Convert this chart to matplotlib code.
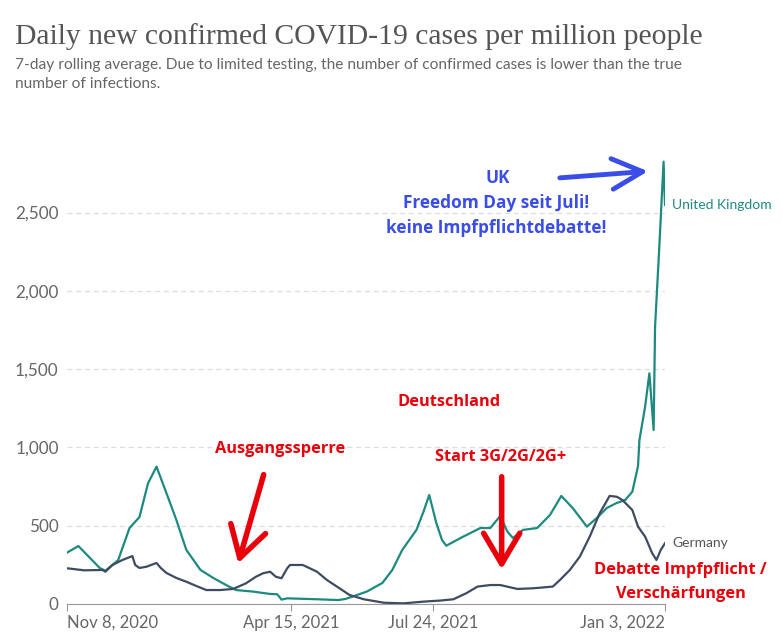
import matplotlib.pyplot as plt
import matplotlib.dates as mdates
import pandas as pd

# United Kingdom (cases per million, 7-day avg)
uk_dates = ["2020-11-08", "2020-11-16", "2020-12-01", "2020-12-05", "2020-12-14",
            "2020-12-22", "2020-12-29", "2021-01-04", "2021-01-10", "2021-01-17",
            "2021-01-24", "2021-01-31", "2021-02-10", "2021-02-19", "2021-02-28",
            "2021-03-07", "2021-03-19", "2021-03-31", "2021-04-05", "2021-04-08",
            "2021-04-12", "2021-05-03", "2021-05-18", "2021-05-23", "2021-05-28",
            "2021-06-07", "2021-06-18", "2021-06-25", "2021-07-02", "2021-07-12",
            "2021-07-17", "2021-07-21", "2021-07-26", "2021-07-30", "2021-08-02",
            "2021-08-12", "2021-08-26", "2021-09-02", "2021-09-09", "2021-09-14",
            "2021-09-18", "2021-09-25", "2021-10-05", "2021-10-14", "2021-10-22",
            "2021-10-30", "2021-11-09", "2021-11-16", "2021-11-23", "2021-11-30",
            "2021-12-06", "2021-12-11", "2021-12-15", "2021-12-16", "2021-12-20",
            "2021-12-23", "2021-12-26", "2021-12-27", "2021-12-30", "2022-01-02",
            "2022-01-03"]
uk_cases = [328, 370, 230, 212, 280,
            485, 555, 770, 877, 708,
            536, 345, 217, 166, 121,
            89, 79, 64, 62, 28,
            36, 30, 25, 32, 47,
            79, 134, 217, 345, 473,
            590, 696, 517, 409, 372,
            421, 485, 485, 562, 462,
            421, 473, 485, 568, 690,
            613, 494, 549, 613, 645,
            664, 717, 880, 1047, 1260,
            1473, 1111, 1771, 2282, 2825,
            2548]

# Germany
de_dates = ["2020-11-08", "2020-11-20", "2020-12-03", "2020-12-05", "2020-12-10",
            "2020-12-17", "2020-12-24", "2020-12-26", "2020-12-29", "2021-01-03",
            "2021-01-10", "2021-01-13", "2021-01-17", "2021-01-24", "2021-01-31",
            "2021-02-07", "2021-02-14", "2021-02-24", "2021-03-05", "2021-03-14",
            "2021-03-21", "2021-03-26", "2021-03-31", "2021-04-04", "2021-04-08",
            "2021-04-12", "2021-04-14", "2021-04-23", "2021-05-03", "2021-05-10",
            "2021-05-17", "2021-05-26", "2021-06-05", "2021-06-19", "2021-07-03",
            "2021-07-17", "2021-07-29", "2021-08-07", "2021-08-16", "2021-08-24",
            "2021-09-02", "2021-09-09", "2021-09-21", "2021-10-02", "2021-10-16",
            "2021-10-21", "2021-10-28", "2021-11-04", "2021-11-11", "2021-11-18",
            "2021-11-25", "2021-11-30", "2021-12-04", "2021-12-11", "2021-12-15",
            "2021-12-20", "2021-12-25", "2021-12-28", "2021-12-31", "2022-01-03"]
de_cases = [228, 215, 217, 206, 249,
            281, 306, 249, 230, 238,
            262, 230, 198, 166, 142,
            115, 89, 89, 96, 132,
            174, 196, 206, 174, 164,
            228, 249, 249, 206, 153,
            111, 57, 30, 8, 4,
            15, 22, 30, 68, 111,
            121, 121, 96, 100, 111,
            153, 217, 302, 430, 579,
            690, 685, 664, 600, 494,
            430, 324, 281, 345, 388]

tick_dates = ["2020-11-08", "2021-04-15", "2021-07-24", "2022-01-03"]
tick_labels = ["Nov 8, 2020", "Apr 15, 2021", "Jul 24, 2021", "Jan 3, 2022"]
y_ticks = [0, 500, 1000, 1500, 2000, 2500]

uk_x = pd.to_datetime(uk_dates)
de_x = pd.to_datetime(de_dates)
D = pd.Timestamp

UK_COL = "#1d8a80"
DE_COL = "#3f4b61"
RED = "#e8000b"
BLUE = "#3a4de6"

fig = plt.figure(figsize=(7.83, 6.43), dpi=100)
ax = fig.add_axes([0.0856, 0.0607, 0.7637, 0.694])

ax.plot(uk_x, uk_cases, color=UK_COL, lw=1.6)
ax.plot(de_x, de_cases, color=DE_COL, lw=1.6)

ax.set_xlim(D(tick_dates[0]), D(tick_dates[-1]))
ax.set_ylim(0, 2850)

# axes styling
for s in ["top", "right", "left"]:
    ax.spines[s].set_visible(False)
ax.spines["bottom"].set_color("#999999")
ax.set_yticks(y_ticks)
ax.set_yticklabels(["0" if v == 0 else f"{v:,}" for v in y_ticks])
ax.tick_params(axis="y", length=0, pad=6, labelsize=12.3, labelcolor="#666666")
ax.set_xticks(pd.to_datetime(tick_dates))
ax.set_xticklabels(tick_labels)
ax.tick_params(axis="x", length=5, color="#999999", labelsize=12,
               labelcolor="#666666", pad=3)
xl = ax.get_xticklabels()
xl[0].set_ha("left")
xl[-1].set_ha("right")
for lab in ax.get_xticklabels() + ax.get_yticklabels():
    lab.set_fontfamily("Lato")
ax.yaxis.grid(True, ls=(0, (4, 3)), color="#dddddd", lw=0.9)
ax.set_axisbelow(True)

# end labels
ax.annotate("United Kingdom", (uk_x[-1], uk_cases[-1]), xytext=(5, 0),
            textcoords="offset points", va="center", color=UK_COL,
            fontsize=10, family="Lato", annotation_clip=False)
ax.annotate("Germany", (de_x[-1], de_cases[-1]), xytext=(5, 0),
            textcoords="offset points", va="center", color="#555555",
            fontsize=10, family="Lato", annotation_clip=False)

# title + subtitle
fig.text(0.019, 0.943, "Daily new confirmed COVID-19 cases per million people",
         fontsize=21.3, family="Liberation Serif", color="#555555", va="center")
fig.text(0.019, 0.899, "7-day rolling average. Due to limited testing, the number "
         "of confirmed cases is lower than the true", fontsize=11.2,
         family="Lato", color="#666666", va="center")
fig.text(0.019, 0.870, "number of infections.", fontsize=11.2,
         family="Lato", color="#666666", va="center")

# red / blue annotations
bold = dict(family="Open Sans", weight="bold", ha="center", va="center",
            fontsize=11.8)
ax.text(D("2021-04-07"), 990, "Ausgangssperre", color=RED, **bold)
ax.annotate("", xy=(D("2021-03-08"), 243), xytext=(D("2021-03-27"), 843),
            arrowprops=dict(arrowstyle="->,head_length=1.1,head_width=0.65",
                            color=RED, lw=4, mutation_scale=20))
ax.text(D("2021-09-09"), 939, "Start 3G/2G/2G+", color=RED, **bold)
ax.annotate("", xy=(D("2021-09-10"), 204), xytext=(D("2021-09-10"), 830),
            arrowprops=dict(arrowstyle="->,head_length=1.1,head_width=0.65",
                            color=RED, lw=4, mutation_scale=20))
ax.text(D("2021-08-04"), 1290, "Deutschland", color=RED, **bold)
ax.text(D("2022-01-14"), 218, "Debatte Impfpflicht /", color=RED,
        clip_on=False, **bold)
ax.text(D("2022-01-14"), 65, "Verschärfungen", color=RED, clip_on=False, **bold)

blue = dict(bold, fontsize=12.4)
ax.text(D("2021-09-07"), 2718, "UK", color=BLUE, **blue)
ax.text(D("2021-09-06"), 2560, "Freedom Day seit Juli!", color=BLUE, **blue)
ax.text(D("2021-09-06"), 2400, "keine Impfpflichtdebatte!", color=BLUE, **blue)
ax.annotate("", xy=(D("2021-12-24"), 2765), xytext=(D("2021-10-19"), 2720),
            arrowprops=dict(arrowstyle="->,head_length=1.1,head_width=0.55",
                            color=BLUE, lw=3.5, mutation_scale=20))

fig.savefig("out.png", dpi=100)
